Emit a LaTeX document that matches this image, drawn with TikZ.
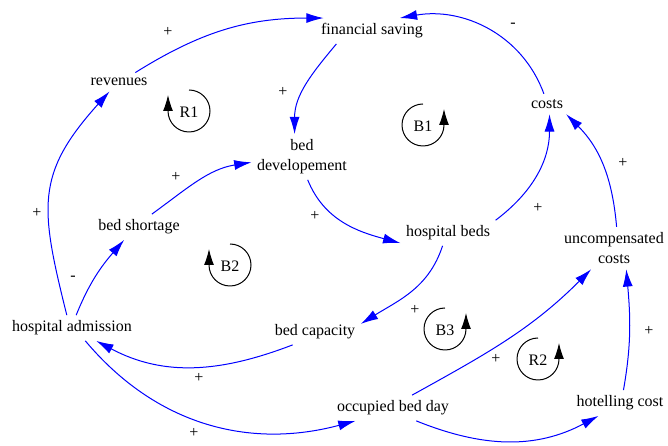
\documentclass[tikz,border=0pt]{standalone}
\usepackage{fontspec}
\setmainfont{Liberation Serif}
\usetikzlibrary{arrows.meta}
\definecolor{LinkBlue}{HTML}{0000FF}

\begin{document}
\begin{tikzpicture}[x=0.75pt, y=0.75pt,
    var/.style={font=\fontsize{12}{15}\selectfont, inner sep=4pt, align=center},
    sign/.style={font=\fontsize{12}{15}\selectfont, inner sep=0pt},
    link/.style={LinkBlue, line width=0.75pt, -{Latex[length=13pt, width=7.5pt]}},
    loopmark/.style={black, line width=0.75pt, -{Latex[length=12pt, width=7.5pt]}}]
  \useasboundingbox (0,0) rectangle (668,446);

  % Variables
  \node[var] (fin) at (372,415) {financial saving};
  \node[var] (rev) at (119,364) {revenues};
  \node[var] (dev) at (302,289) {bed\\developement};
  \node[var] (costs) at (547,342) {costs};
  \node[var] (hbeds) at (448,213) {hospital beds};
  \node[var] (short) at (139,219) {bed shortage};
  \node[var] (uncomp) at (614,198) {uncompensated\\costs};
  \node[var] (adm) at (72,118) {hospital admission};
  \node[var] (cap) at (315,114) {bed capacity};
  \node[var] (obd) at (393,38) {occupied bed day};
  \node[var] (hotel) at (620,43) {hotelling cost};

  % Links
  \draw[link] (rev.30) to[out=32, in=180] (fin.165);
  \draw[link] (costs.107) to[out=110, in=10] (fin.25);
  \draw[link] (fin.200) to[out=230, in=90] (dev.108);
  \draw[link] (short.45) to[out=36, in=189] (dev.186);
  \draw[link] (dev.284) to[out=-68, in=165] (hbeds.192);
  \draw[link] (hbeds.15) to[out=37, in=-90] (costs.-76);
  \draw[link] (uncomp.83) to[out=95, in=-45] (costs.-28);
  \draw[link] (adm.112) to[out=104, in=228, looseness=1.25] (rev.225);
  \draw[link] (adm.72) to[out=68, in=229] (short.221);
  \draw[link] (cap.210) to[out=201, in=-28] (adm.-28);
  \draw[link] (adm.-44) to[out=-50, in=195] (obd.199);
  \draw[link] (hbeds.247) to[out=252, in=32] (cap.10);
  \draw[link] (obd.34) to[out=29, in=225] (uncomp.223);
  \draw[link] (obd.-29) to[out=-22, in=208] (hotel.211);
  \draw[link] (hotel.75) to[out=80, in=-85] (uncomp.-60);

  % Polarities
  \node[sign] (s1) at (168,414) {+};
  \node[sign] (s2) at (513,421) {-};
  \node[sign] (s3) at (283,354) {+};
  \node[sign] (s4) at (176,269) {+};
  \node[sign] (s5) at (315,230) {+};
  \node[sign] (s6) at (538,238) {+};
  \node[sign] (s7) at (623,283) {+};
  \node[sign] (s8) at (37,233) {+};
  \node[sign] (s9) at (73,168) {-};
  \node[sign] (s10) at (199,68) {+};
  \node[sign] (s11) at (194,13) {+};
  \node[sign] (s12) at (415,136) {+};
  \node[sign] (s13) at (496,87) {+};
  \node[sign] (s14) at (649,115) {+};

  % Loop markers
  \draw[loopmark] (189,356) arc[start angle=90, end angle=-180, radius=21] -- ++(0,16);
  \node[var] (R1) at (189,334) {R1};
  \draw[loopmark] (423,342) arc[start angle=90, end angle=360, radius=21] -- ++(0,16);
  \node[var] (B1) at (423,320) {B1};
  \draw[loopmark] (230,202) arc[start angle=90, end angle=-180, radius=21] -- ++(0,16);
  \node[var] (B2) at (230,180) {B2};
  \draw[loopmark] (445,138) arc[start angle=90, end angle=360, radius=21] -- ++(0,16);
  \node[var] (B3) at (445,116) {B3};
  \draw[loopmark] (538,108) arc[start angle=90, end angle=360, radius=21] -- ++(0,16);
  \node[var] (R2) at (538,86) {R2};
\end{tikzpicture}
\end{document}
